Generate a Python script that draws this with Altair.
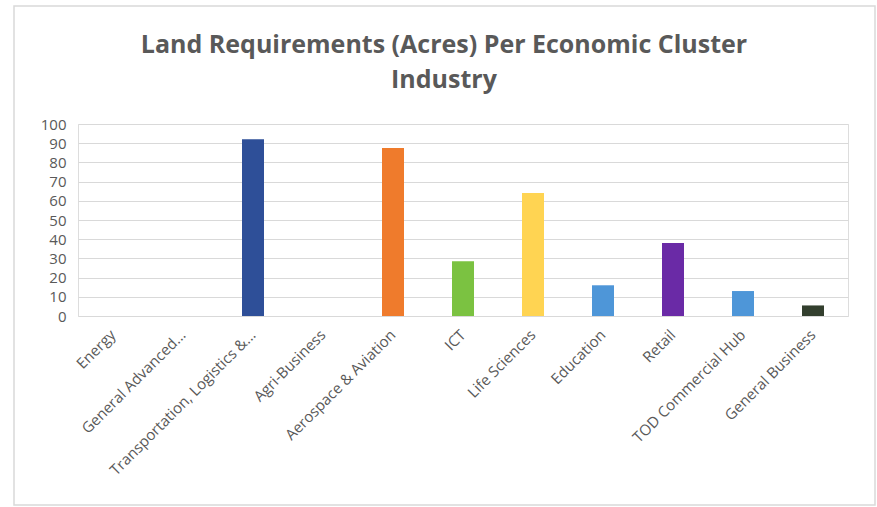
import altair as alt
import pandas as pd

categories = ["Energy", "General Advanced...", "Transportation, Logistics &...", "Agri-Business",
              "Aerospace & Aviation", "ICT", "Life Sciences", "Education", "Retail",
              "TOD Commercial Hub", "General Business"]
acres = [0, 0, 92, 0, 87.5, 28.5, 64, 16, 38, 13, 5.5]
colors = ["#4472C4", "#A5A5A5", "#2E4F98", "#FFC000", "#EF7B2C", "#7BC241", "#FFD452",
          "#4E96D8", "#6A2AA6", "#4E96D8", "#333F2E"]
y_ticks = [0, 10, 20, 30, 40, 50, 60, 70, 80, 90, 100]

df = pd.DataFrame({"cat": categories, "acres": acres, "color": colors})

font = "Open Sans"
label_color = "#595959"

bars = alt.Chart(df).mark_bar(size=22).encode(
    x=alt.X("cat:N", sort=categories, title=None,
            scale=alt.Scale(paddingInner=0, paddingOuter=0),
            axis=alt.Axis(labelAngle=-45, labelAlign="right", labelBaseline="middle",
                          labelFont=font, labelFontSize=15, labelColor=label_color,
                          labelPadding=16, ticks=False, domain=False, labelLimit=300,
                          grid=False)),
    y=alt.Y("acres:Q", title=None,
            scale=alt.Scale(domain=[0, 100], nice=False),
            axis=alt.Axis(values=y_ticks, labelFont=font, labelFontSize=15,
                          labelColor=label_color, labelPadding=12, ticks=False,
                          domain=False, gridColor="#D9D9D9", gridWidth=1)),
    color=alt.Color("color:N", scale=None),
)

frame = alt.Chart(pd.DataFrame({"a": [0]})).mark_rect(
    filled=False, stroke="#D9D9D9", strokeWidth=1.5
).encode(
    x=alt.value(-64), x2=alt.value(797), y=alt.value(-118), y2=alt.value(381)
)

chart = alt.layer(frame, bars).properties(
    width=770, height=192,
    padding={"left": 78, "top": 124, "right": 29, "bottom": 191},
    autosize=alt.AutoSizeParams(type="none"),
    title=alt.TitleParams(
        ["Land Requirements (Acres) Per Economic Cluster", "Industry"],
        font=font, fontSize=25, fontWeight="bold", color=label_color,
        anchor="middle", dx=-19, offset=-88, lineHeight=35,
    ),
).configure_view(stroke=None).configure(background="white")

chart.save("out.html", embed_options={"renderer": "svg", "actions": False})
